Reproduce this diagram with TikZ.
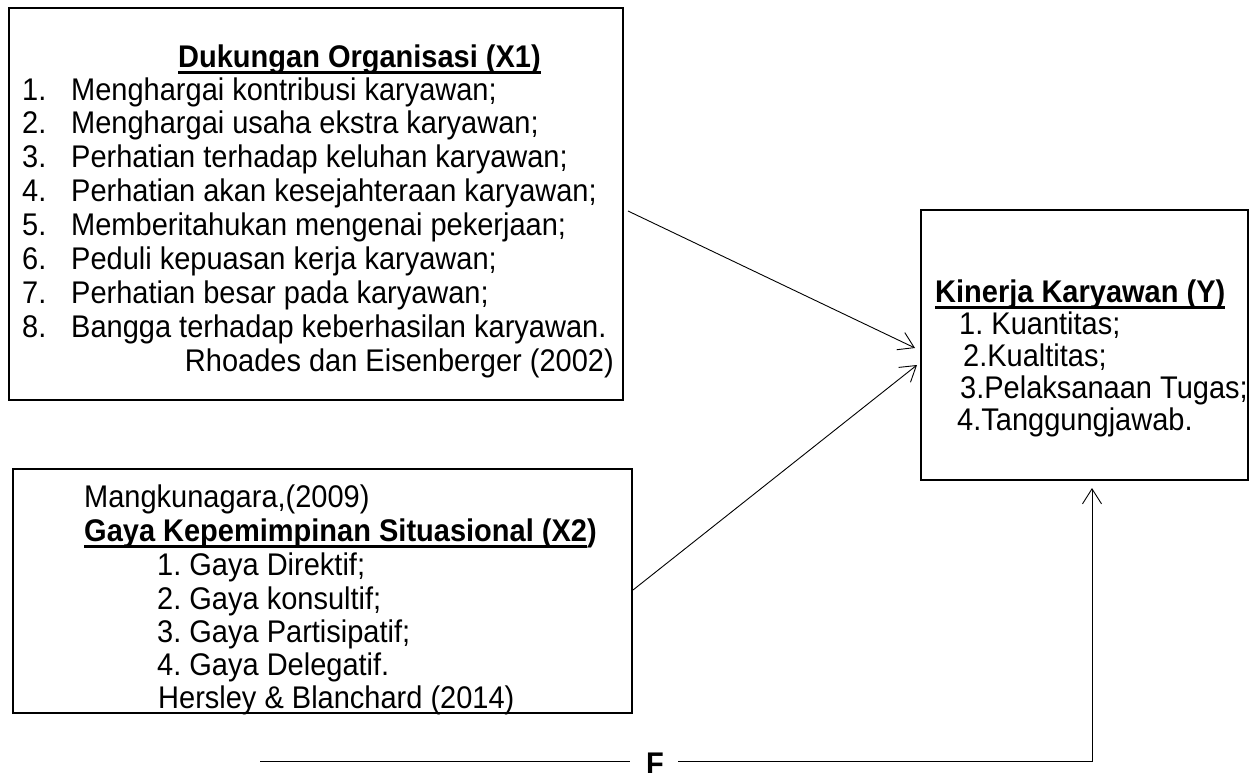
\documentclass[tikz,border=0pt]{standalone}
\usepackage{fontspec}
\setmainfont{Liberation Sans}
\usetikzlibrary{arrows.meta}
\frenchspacing
\newlength\ulw
\newcommand\ulx[1]{\settowidth\ulw{#1}\rlap{\rule[-0.22em]{\ulw}{0.085em}}#1}
\newcommand\vs[1]{\scalebox{1}[1.08]{#1}}
\begin{document}
\frenchspacing
\begin{tikzpicture}[x=1pt,y=-1pt,
  box/.style={draw, line width=2.2pt, inner sep=0pt, outer sep=0pt, anchor=north west},
  txt/.style={font=\fontsize{29}{34}\selectfont, inner sep=0pt, anchor=base west},
  btxt/.style={font=\fontsize{29}{34}\selectfont\bfseries, inner sep=0pt, anchor=base west},
  conn/.style={line width=0.9pt},
  arr/.style={conn, -{Straight Barb[length=15pt,width=19pt,line width=0.9pt]}}]
\useasboundingbox[fill=white] (0,0) rectangle (1251,772);

% boxes
\node[box, minimum width=614pt, minimum height=392pt] (x1) at (9,8) {};
\node[box, minimum width=619pt, minimum height=244pt] (x2) at (13,469) {};
\node[box, minimum width=327pt, minimum height=270pt] (y) at (921,210) {};

% X1 texts
\node[btxt] (x1t) at (178,67) {\vs{\ulx{Dukungan Organisasi (X1)}}};
\foreach \i/\s [count=\k from 0] in {1/Menghargai kontribusi karyawan;,
  2/Menghargai usaha ekstra karyawan;,
  3/Perhatian terhadap keluhan karyawan;,
  4/Perhatian akan kesejahteraan karyawan;,
  5/Memberitahukan mengenai pekerjaan;,
  6/Peduli kepuasan kerja karyawan;,
  7/Perhatian besar pada karyawan;,
  8/Bangga terhadap keberhasilan karyawan.}{
  \node[txt] (x1n\i) at (22,100+33.9*\k) {\vs{\i.}};
  \node[txt] (x1l\i) at (71,100+33.9*\k) {\vs{\s}};
}
\node[txt, anchor=base east] (x1r) at (614,371) {\vs{Rhoades dan Eisenberger (2002)}};

% X2 texts
\node[txt] (x2a) at (84,507) {\vs{Mangkunagara,(2009)}};
\node[btxt] (x2t) at (84,541) {\vs{\ulx{Gaya Kepemimpinan Situasional (X2}\kern0pt)}};
\node[txt] (x2l1) at (157,575) {\vs{1. Gaya Direktif;}};
\node[txt] (x2l2) at (157,609) {\vs{2. Gaya konsultif;}};
\node[txt] (x2l3) at (157,642) {\vs{3. Gaya Partisipatif;}};
\node[txt] (x2l4) at (157,675) {\vs{4. Gaya Delegatif.}};
\node[txt] (x2r) at (158,708) {\vs{Hersley \& Blanchard (2014)}};

% Y texts
\node[btxt] (yt) at (935,302) {\vs{\ulx{Kinerja Karyawan (Y)}}};
\node[txt] (yl1) at (959,334) {\vs{1. Kuantitas;}};
\node[txt] (yl2) at (963,366) {\vs{2.Kualtitas;}};
\node[txt] (yl3) at (960,398) {\vs{3.Pelaksanaan Tugas;}};
\node[txt] (yl4) at (957,430) {\vs{4.Tanggungjawab.}};

% F
\node[btxt] (f) at (646,774) {\vs{F}};

% connector end points
\coordinate (a1s) at (628,211);
\coordinate (a1e) at (915,348);
\coordinate (a2s) at (633,590);
\coordinate (a2e) at (917,365);
\coordinate (bl) at (260,761);
\coordinate (fl) at (630,761);
\coordinate (fr) at (678,761);
\coordinate (bc) at (1092,761);
\coordinate (a3e) at (1092,488);

\draw[arr] (a1s) -- (a1e);
\draw[arr] (a2s) -- (a2e);
\draw[conn] (bl) -- (fl);
\draw[arr] (fr) -- (bc) -- (a3e);
\end{tikzpicture}
\end{document}
